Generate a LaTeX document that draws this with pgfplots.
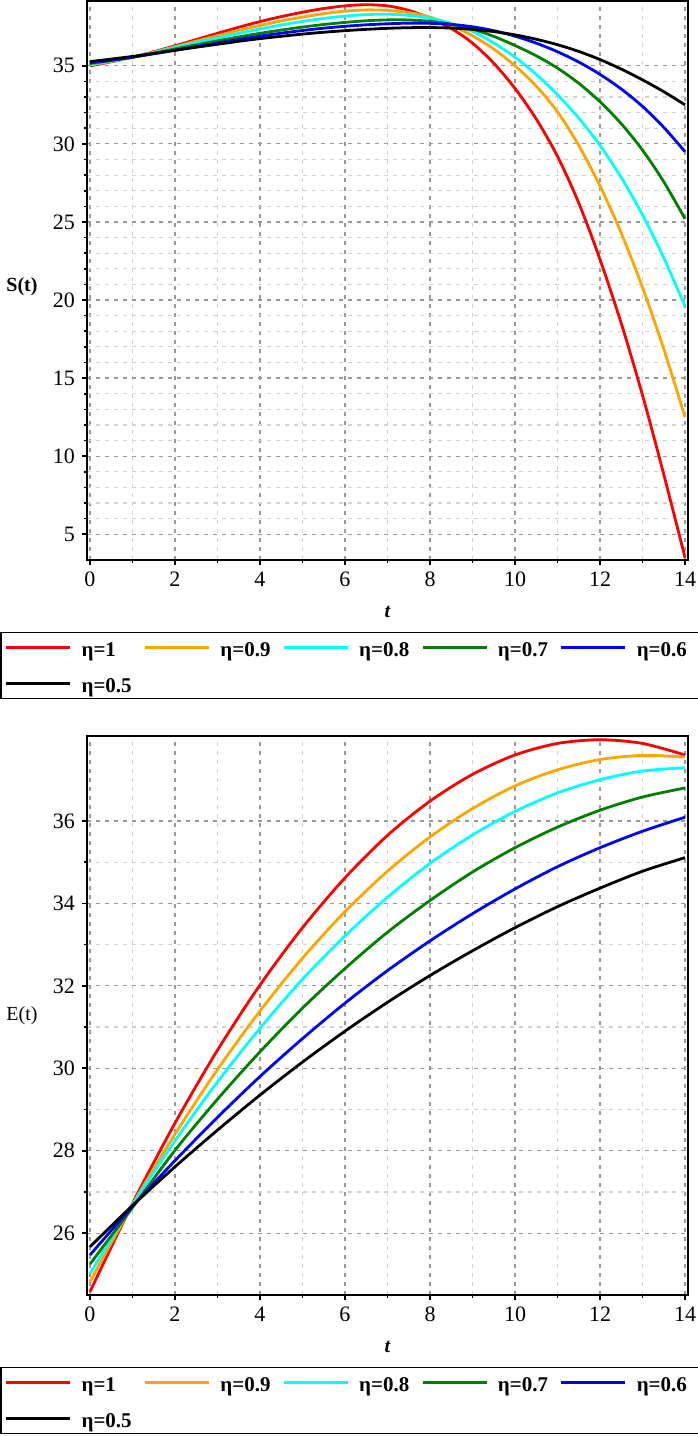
\documentclass[border=0pt]{standalone}
\usepackage{fontspec}
\setmainfont{Liberation Serif}
\usepackage{pgfplots}
\usepackage{pgfplotstable}
\pgfplotsset{compat=1.18}
\definecolor{mOrange}{RGB}{255,165,0}
\definecolor{mCyan}{RGB}{0,255,255}
\definecolor{mGreen}{RGB}{0,128,0}
\definecolor{mBlue}{RGB}{0,0,255}
\definecolor{mRed}{RGB}{255,0,0}
% S(t): columns eta=1, 0.9, 0.8, 0.7, 0.6, 0.5
\pgfplotstableread{
t    r      o      c      g      b      k
0    35.00  35.05  35.10  35.15  35.20  35.27
0.5  35.26  35.28  35.30  35.335 35.36  35.43
1    35.55  35.55  35.55  35.55  35.55  35.60
1.5  35.90  35.87  35.855 35.81  35.77  35.79
2    36.28  36.22  36.18  36.08  36.00  35.99
2.5  36.68  36.58  36.49  36.345 36.23  36.19
3    37.08  36.93  36.79  36.60  36.46  36.38
3.5  37.47  37.27  37.08  36.85  36.69  36.57
4    37.83  37.58  37.36  37.08  36.90  36.74
4.5  38.15  37.87  37.615 37.29  37.09  36.89
5    38.43  38.12  37.84  37.48  37.26  37.03
5.5  38.67  38.34  38.03  37.645 37.41  37.15
6    38.84  38.50  38.18  37.78  37.53  37.25
6.5  38.91  38.58  38.28  37.885 37.625 37.335
7    38.84  38.55  38.30  37.94  37.69  37.40
7.5  38.55  38.41  38.23  37.935 37.73  37.44
8    38.05  38.12  38.05  37.85  37.72  37.45
8.5  37.39  37.61  37.715 37.66  37.65  37.415
9    36.45  36.92  37.20  37.35  37.50  37.33
9.5  35.16  36.07  36.47  36.885 37.25  37.19
10   33.55  35.00  35.55  36.30  36.90  36.98
10.5 31.59  33.70  34.45  35.64  36.45  36.70
11   29.20  32.05  33.15  34.85  35.90  36.35
11.5 26.21  29.90  31.65  33.88  35.24  35.92
12   22.60  27.30  29.90  32.70  34.45  35.40
12.5 18.50  24.28  27.84  31.29  33.515 34.79
13   13.90  20.80  25.45  29.60  32.40  34.10
13.5 8.83   16.86  22.70  27.575 31.06  33.34
14   3.50   12.50  19.60  25.20  29.50  32.50
}\Sdata
% E(t)
\pgfplotstableread{
t    r      o      c      g      b      k
0    24.58  24.82  25.02  25.25  25.47  25.67
1    26.72  26.69  26.69  26.62  26.65  26.67
2    28.67  28.40  28.24  28.01  27.76  27.61
3    30.44  29.97  29.67  29.25  28.81  28.50
4    32.02  31.39  30.97  30.40  29.80  29.35
5    33.41  32.67  32.16  31.46  30.72  30.15
6    34.62  33.80  33.21  32.42  31.58  30.90
7    35.65  34.78  34.15  33.30  32.37  31.60
8    36.48  35.61  34.97  34.07  33.09  32.25
9    37.13  36.30  35.66  34.76  33.75  32.85
10   37.60  36.85  36.23  35.35  34.35  33.41
11   37.88  37.24  36.68  35.85  34.89  33.92
12   37.97  37.49  37.00  36.26  35.35  34.37
13   37.88  37.59  37.21  36.58  35.75  34.78
14   37.60  37.55  37.29  36.80  36.09  35.11
}\Edata
\pgfplotsset{
  maplestyle/.style={
    scale only axis, width=300.5pt, height=279.5pt,
    xmin=-0.07, xmax=14.07,
    xtick={0,2,...,14}, minor x tick num=1,
    tick align=outside, tick pos=left,
    grid=both,
    major grid style={gray!80, dash pattern=on 2pt off 2.5pt, line width=0.6pt},
    minor grid style={gray!35, dash pattern=on 2pt off 2.5pt, line width=0.6pt},
    axis line style={line width=1pt},
    major tick length=2.5pt, minor tick length=1.5pt,
    every tick/.style={black, line width=0.8pt},
    tick label style={font=\fontsize{11}{13}\selectfont},
    /pgf/number format/assume math mode=true,
    label style={font=\fontsize{11}{13}\selectfont},
    every axis x label/.style={at={(axis description cs:0.5,0)}, yshift=-26pt, anchor=center},
    every axis y label/.style={at={(axis description cs:0,0.5)}, xshift=-32.5pt, anchor=center},
    every axis plot/.append style={line width=1.4pt, no markers, smooth},
    legend columns=5, legend cell align=left,
    legend image code/.code={\path (0pt,0pt) -- (32pt,0pt); \draw[#1] (2pt,0pt) -- (32pt,0pt);},
    legend style={at={(axis description cs:0,0)}, anchor=north west, xshift=-43.5pt, yshift=-35.85pt,
      draw=black, line width=0.8pt, inner xsep=2pt, inner ysep=3pt,
      font=\fontsize{10.5}{12}\selectfont\bfseries,
      nodes={inner xsep=0pt, inner ysep=0pt, text height=9pt, text depth=0pt},
      /tikz/every odd column/.style={column sep=5pt},
      /tikz/every even column/.style={column sep=0.5pt},
      row sep=9pt},
  }
}
\begin{document}
\begin{tikzpicture}
\path[use as bounding box] (0,0) rectangle (348.5pt,-718pt);
% ---------------- S(t) ----------------
\begin{axis}[maplestyle, at={(43.5pt,-280pt)}, anchor=south west,
  ymin=3.35, ymax=39.15, ytick={5,10,...,35}, minor y tick num=4,
  xlabel={\bfseries\itshape t}, ylabel={\bfseries S(t)},
  ylabel style={yshift=-3pt}]
\addplot[mRed] table[x=t, y=r] {\Sdata};
\addlegendentry{\makebox[30.5pt][l]{η=1}}
\addplot[mOrange] table[x=t, y=o] {\Sdata};
\addlegendentry{\makebox[30.5pt][l]{η=0.9}}
\addplot[mCyan] table[x=t, y=c] {\Sdata};
\addlegendentry{\makebox[30.5pt][l]{η=0.8}}
\addplot[mGreen] table[x=t, y=g] {\Sdata};
\addlegendentry{\makebox[30.5pt][l]{η=0.7}}
\addplot[mBlue] table[x=t, y=b] {\Sdata};
\addlegendentry{\makebox[30.5pt][l]{η=0.6}}
\addplot[black] table[x=t, y=k] {\Sdata};
\addlegendentry{\makebox[30.5pt][l]{η=0.5}}
\end{axis}
% ---------------- E(t) ----------------
\begin{axis}[maplestyle, at={(43.5pt,-647.5pt)}, anchor=south west,
  ymin=24.5, ymax=38.06, ytick={26,28,...,36}, minor y tick num=1,
  xlabel={\bfseries\itshape t}, ylabel={E(t)}]
\addplot[mRed] table[x=t, y=r] {\Edata};
\addlegendentry{\makebox[30.5pt][l]{η=1}}
\addplot[mOrange] table[x=t, y=o] {\Edata};
\addlegendentry{\makebox[30.5pt][l]{η=0.9}}
\addplot[mCyan] table[x=t, y=c] {\Edata};
\addlegendentry{\makebox[30.5pt][l]{η=0.8}}
\addplot[mGreen] table[x=t, y=g] {\Edata};
\addlegendentry{\makebox[30.5pt][l]{η=0.7}}
\addplot[mBlue] table[x=t, y=b] {\Edata};
\addlegendentry{\makebox[30.5pt][l]{η=0.6}}
\addplot[black] table[x=t, y=k] {\Edata};
\addlegendentry{\makebox[30.5pt][l]{η=0.5}}
\end{axis}
\end{tikzpicture}
\end{document}
